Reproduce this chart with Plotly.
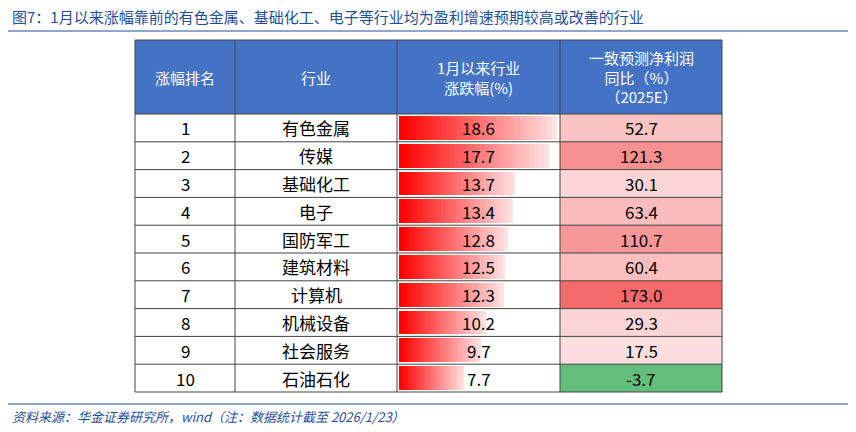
import plotly.graph_objects as go

ranks = [1, 2, 3, 4, 5, 6, 7, 8, 9, 10]
industries = ["有色金属", "传媒", "基础化工", "电子", "国防军工", "建筑材料", "计算机", "机械设备", "社会服务", "石油石化"]
change_pct = [18.6, 17.7, 13.7, 13.4, 12.8, 12.5, 12.3, 10.2, 9.7, 7.7]
profit_yoy = [52.7, 121.3, 30.1, 63.4, 110.7, 60.4, 173.0, 29.3, 17.5, -3.7]
headers = ["涨幅排名", "行业", "1月以来行业<br>涨跌幅(%)", "一致预测净利润<br>同比（%）<br>（2025E）"]

FONT = "Noto Sans CJK SC"
cols = [135, 235, 397, 560, 722]
top, head_bot, bottom = 40, 114, 392
row_h = (bottom - head_bot) / len(ranks)
centers = [head_bot + row_h * (i + 0.5) for i in range(len(ranks))]

fig = go.Figure()
shapes = []
# header
shapes.append(dict(type="rect", x0=cols[0], x1=cols[-1], y0=top, y1=head_bot,
                   fillcolor="#4472c4", line=dict(width=0), layer="below"))

# profit column colours
vmax = max(profit_yoy)
for c, v in zip(centers, profit_yoy):
    if v < 0:
        col = "#63be7b"
    else:
        t = v / vmax
        r = int(253 - t * 8)
        g = int(236 - t * 130)
        b = int(236 - t * 130)
        col = f"rgb({r},{g},{b})"
    shapes.append(dict(type="rect", x0=cols[3], x1=cols[4], y0=c - row_h / 2, y1=c + row_h / 2,
                       fillcolor=col, line=dict(width=0), layer="below"))

# gradient data bars
scale = 8.5
N = 30
for i in range(N):
    t = i / (N - 1)
    col = f"rgb(255,{int(t * 225)},{int(t * 225)})"
    fig.add_trace(go.Bar(
        orientation="h", y=centers,
        x=[v * scale / N for v in change_pct],
        base=[cols[2] + 2 + v * scale * i / N for v in change_pct],
        width=row_h - 4, marker=dict(color=col, line=dict(width=0)),
        hoverinfo="skip", showlegend=False))

# grid lines
for x in cols:
    shapes.append(dict(type="line", x0=x, x1=x, y0=top, y1=bottom, line=dict(color="#444", width=1)))
for k in range(len(ranks) + 1):
    y = head_bot + k * row_h
    shapes.append(dict(type="line", x0=cols[0], x1=cols[-1], y0=y, y1=y, line=dict(color="#444", width=1)))
shapes.append(dict(type="line", x0=cols[0], x1=cols[-1], y0=top, y1=top, line=dict(color="#444", width=1)))

mids = [(cols[i] + cols[i + 1]) / 2 for i in range(4)]
ann = []
for m, h in zip(mids, headers):
    ann.append(dict(x=m, y=(top + head_bot) / 2, text=h, showarrow=False,
                    font=dict(family=FONT, size=15, color="white")))
for c, r, ind, ch, p in zip(centers, ranks, industries, change_pct, profit_yoy):
    for m, txt in zip(mids, [str(r), ind, f"{ch:.1f}", f"{p:.1f}"]):
        ann.append(dict(x=m, y=c, text=txt, showarrow=False,
                        font=dict(family=FONT, size=17, color="black")))
ann.append(dict(x=10, y=16, xanchor="left", text="图7：1月以来涨幅靠前的有色金属、基础化工、电子等行业均为盈利增速预期较高或改善的行业",
                showarrow=False, font=dict(family=FONT, size=15, color="#1f4e9c")))
ann.append(dict(x=10, y=416, xanchor="left", text="<i>资料来源：华金证券研究所，wind（注：数据统计截至 2026/1/23）</i>",
                showarrow=False, font=dict(family=FONT, size=13, color="#1f4e9c")))
shapes.append(dict(type="line", x0=8, x1=864, y0=31, y1=31, line=dict(color="#1f4e9c", width=1)))
shapes.append(dict(type="line", x0=8, x1=864, y0=404, y1=404, line=dict(color="#1f4e9c", width=1)))

fig.update_layout(
    width=856, height=432, margin=dict(l=0, r=0, t=0, b=0),
    plot_bgcolor="white", paper_bgcolor="white", barmode="overlay", bargap=0,
    xaxis=dict(range=[8, 864], visible=False, fixedrange=True),
    yaxis=dict(range=[440, 8], visible=False, fixedrange=True),
    shapes=shapes, annotations=ann)
fig.write_html("out.html")
